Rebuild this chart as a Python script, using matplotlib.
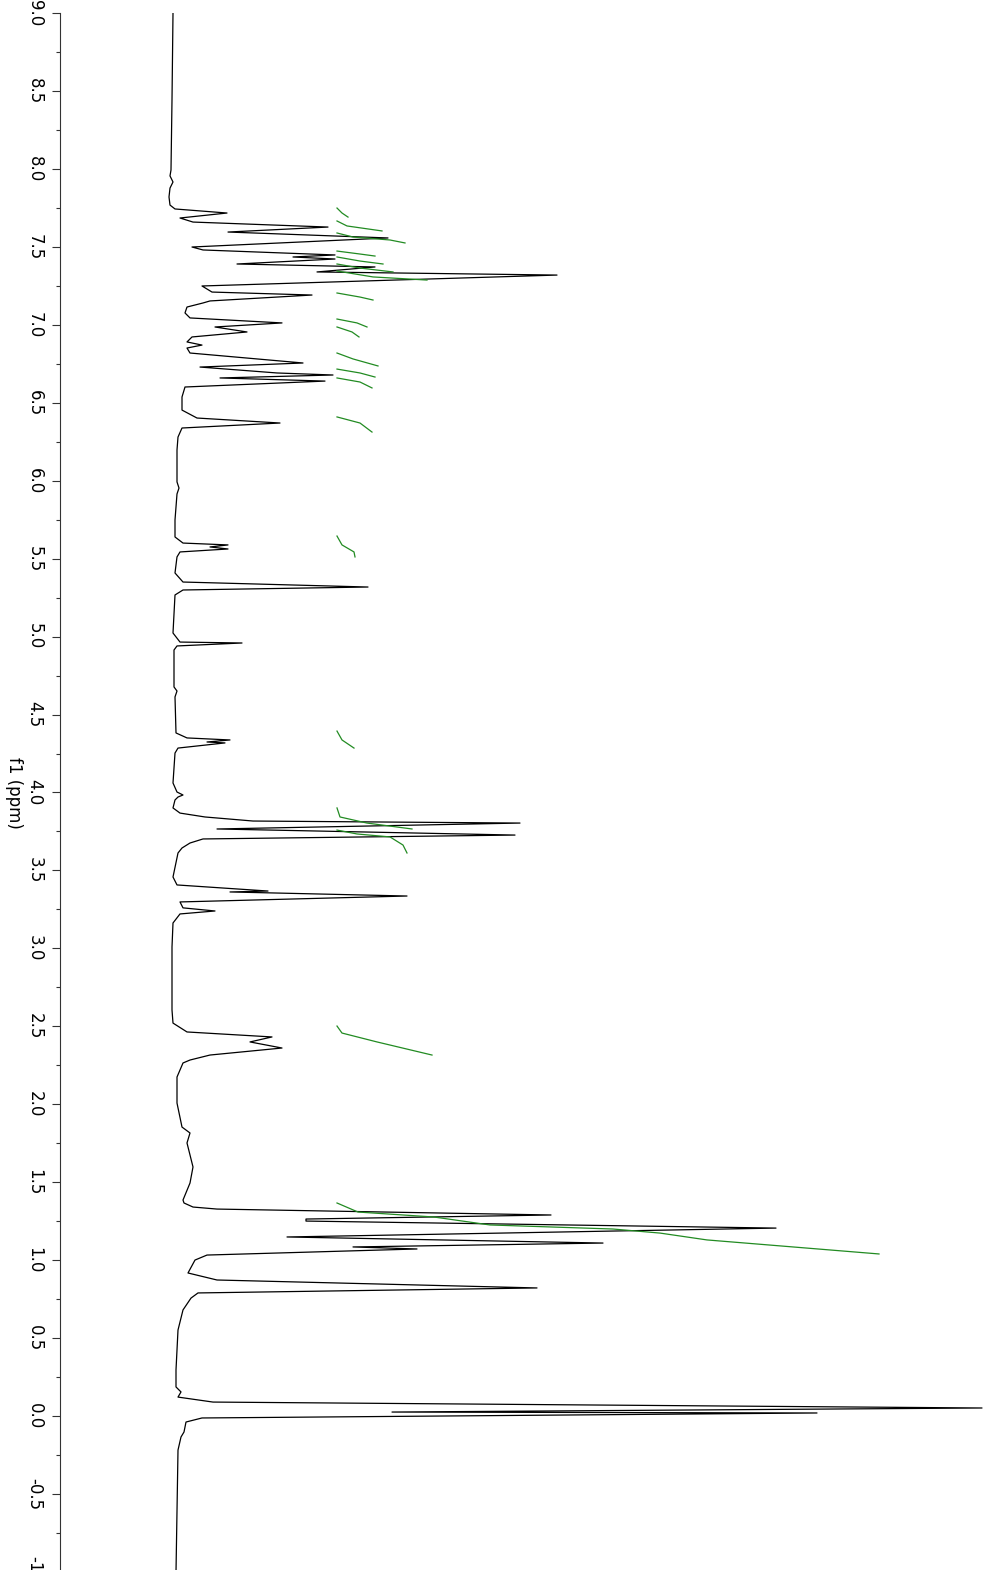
import matplotlib
matplotlib.use("Agg")
import matplotlib.pyplot as plt
from matplotlib.ticker import MultipleLocator, FormatStrFormatter

plt.rcParams.update({"font.size": 12, "axes.unicode_minus": False})

# 1H spectrum trace: chemical shift (ppm) and intensity (arb. units)
shift_ppm = [
    9.000, 8.442, 7.993, 7.955, 7.916, 7.877, 7.820, 7.768, 7.743, 7.717,
    7.685, 7.659, 7.627, 7.595, 7.557, 7.499, 7.480, 7.448, 7.435, 7.422,
    7.390, 7.371, 7.339, 7.319, 7.249, 7.210, 7.191, 7.153, 7.140, 7.114,
    7.076, 7.044, 7.012, 6.986, 6.954, 6.922, 6.890, 6.870, 6.851, 6.819,
    6.755, 6.729, 6.691, 6.678, 6.659, 6.639, 6.601, 6.537, 6.453, 6.402,
    6.370, 6.338, 6.280, 6.197, 5.992, 5.953, 5.915, 5.748, 5.639, 5.600,
    5.588, 5.575, 5.562, 5.543, 5.511, 5.408, 5.350, 5.318, 5.299, 5.267,
    5.023, 4.965, 4.959, 4.940, 4.914, 4.677, 4.651, 4.613, 4.382, 4.350,
    4.337, 4.324, 4.318, 4.285, 4.253, 4.061, 4.003, 3.984, 3.971, 3.952,
    3.901, 3.868, 3.843, 3.817, 3.804, 3.766, 3.727, 3.702, 3.676, 3.644,
    3.612, 3.458, 3.407, 3.368, 3.362, 3.336, 3.298, 3.260, 3.240, 3.221,
    3.163, 3.009, 2.605, 2.521, 2.464, 2.432, 2.400, 2.361, 2.316, 2.284,
    2.265, 2.175, 2.008, 1.854, 1.816, 1.752, 1.598, 1.495, 1.386, 1.367,
    1.341, 1.328, 1.290, 1.264, 1.251, 1.206, 1.149, 1.110, 1.085, 1.072,
    1.033, 1.001, 0.918, 0.873, 0.822, 0.790, 0.757, 0.681, 0.552, 0.296,
    0.187, 0.155, 0.122, 0.090, 0.052, 0.026, 0.020, -0.012, -0.038, -0.102,
    -0.134, -0.218, -1.000,
]
intensity = [
    1, 0, -1, -2, 1, -2, -3, -2, 3, 55,
    8, 21, 156, 56, 216, 20, 31, 163, 121, 163,
    65, 203, 145, 385, 30, 40, 140, 38, 31, 15,
    13, 18, 110, 43, 75, 20, 15, 30, 15, 18,
    131, 28, 105, 161, 48, 153, 13, 10, 10, 25,
    108, 10, 6, 5, 5, 7, 5, 3, 3, 11,
    56, 38, 56, 8, 5, 3, 11, 196, 11, 3,
    1, 8, 70, 5, 2, 2, 5, 3, 4, 15,
    58, 35, 53, 6, 3, 1, 5, 11, 6, 3,
    1, 8, 33, 81, 348, 45, 343, 31, 18, 10,
    6, 1, 5, 96, 58, 235, 8, 11, 43, 8,
    1, 0, 0, 1, 15, 100, 78, 110, 38, 18,
    11, 5, 5, 10, 18, 15, 21, 18, 11, 12,
    21, 45, 379, 134, 134, 604, 115, 431, 181, 245,
    35, 23, 16, 45, 365, 26, 19, 11, 6, 4,
    4, 9, 6, 41, 810, 220, 645, 30, 14, 12,
    9, 6, 4,
]

# integral curves (ppm, integral height in the same units)
integral_ppm = [
    [7.749, 7.717, 7.691],
    [7.666, 7.634, 7.602],
    [7.589, 7.563, 7.544, 7.525],
    [7.473, 7.454, 7.441],
    [7.435, 7.409, 7.390],
    [7.390, 7.364, 7.339],
    [7.345, 7.307, 7.287],
    [7.204, 7.178, 7.159],
    [7.037, 7.012, 6.986],
    [6.986, 6.954, 6.922],
    [6.819, 6.781, 6.736],
    [6.716, 6.691, 6.665],
    [6.659, 6.633, 6.595],
    [6.409, 6.370, 6.312],
    [5.645, 5.588, 5.543, 5.511],
    [4.394, 4.337, 4.285],
    [3.901, 3.843, 3.804, 3.766],
    [3.759, 3.734, 3.715, 3.663, 3.612],
    [2.502, 2.457, 2.400, 2.316],
    [1.367, 1.309, 1.277, 1.226, 1.200, 1.174, 1.130, 1.040],
]
integral_val = [
    [165, 170, 176],
    [165, 175, 210],
    [165, 181, 218, 233],
    [165, 188, 203],
    [165, 188, 211],
    [165, 188, 221],
    [165, 201, 255],
    [165, 188, 201],
    [165, 185, 195],
    [165, 180, 187],
    [165, 181, 206],
    [165, 188, 203],
    [165, 188, 200],
    [165, 188, 200],
    [165, 170, 182, 183],
    [165, 170, 182],
    [165, 168, 195, 240],
    [165, 185, 218, 231, 235],
    [165, 170, 205, 260],
    [165, 186, 262, 318, 441, 488, 535, 707],
]

W, H = 983, 1570
fig = plt.figure(figsize=(W / 100, H / 100), dpi=100)
ax = fig.add_axes([60 / W, -2 / H, 923 / W, 1559 / H])

ax.plot(intensity, shift_ppm, color="black", lw=0.9)
for p, v in zip(integral_ppm, integral_val):
    ax.plot(v, p, color="#228B22", lw=0.9)

ax.set_xlim(-112, 811)
ax.set_ylim(-1.0, 9.0)

for side in ("top", "right", "bottom"):
    ax.spines[side].set_visible(False)
ax.spines["left"].set_color("#333333")
ax.set_xticks([])

ax.yaxis.set_major_locator(MultipleLocator(0.5))
ax.yaxis.set_minor_locator(MultipleLocator(0.25))
ax.yaxis.set_major_formatter(FormatStrFormatter("%.1f"))
ax.tick_params(axis="y", which="major", length=5.8, width=0.8, pad=6,
               labelrotation=-90, labelsize=12, color="#333333")
ax.tick_params(axis="y", which="minor", length=2.9, width=0.8, color="#333333")
for lbl in ax.get_yticklabels():
    lbl.set_verticalalignment("center")

ax.set_ylabel("f1 (ppm)", rotation=-90, va="top", labelpad=2, fontsize=12)

fig.savefig("out.png", dpi=100)
